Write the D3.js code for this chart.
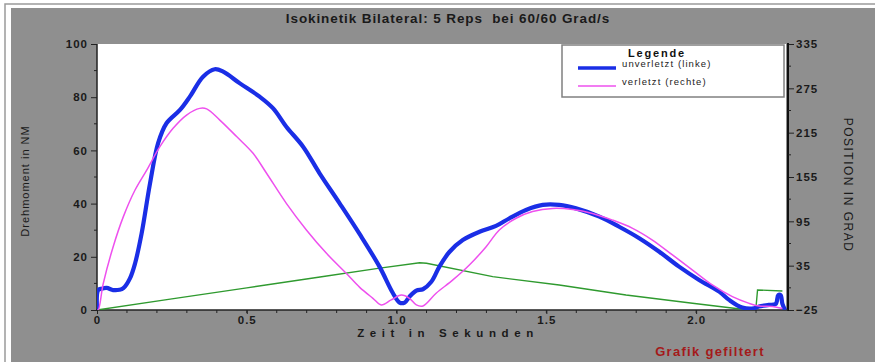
<!DOCTYPE html>
<html>
<head>
<meta charset="utf-8">
<script src="https://cdn.jsdelivr.net/npm/d3@7/dist/d3.min.js"></script>
<style>
  html, body { margin: 0; padding: 0; background: #ffffff; }
  svg { display: block; font-family: "Liberation Sans", Arial, sans-serif; }
  text { white-space: pre; }
</style>
</head>
<body>
<svg id="chart" width="875" height="362"></svg>
<script>
// Torque curves (Nm) over time (s) and joint position (degrees)
const timeUnverletzt = [0, 0.004, 0.015, 0.032, 0.054, 0.075, 0.088, 0.11, 0.127, 0.149, 0.177, 0.204, 0.232, 0.277, 0.31, 0.354, 0.393, 0.421, 0.477, 0.543, 0.588, 0.632, 0.688, 0.743, 0.81, 0.877, 0.943, 0.988, 1.01, 1.027, 1.043, 1.066, 1.088, 1.116, 1.143, 1.177, 1.221, 1.277, 1.332, 1.377, 1.432, 1.488, 1.543, 1.599, 1.677, 1.743, 1.81, 1.877, 1.943, 2.01, 2.077, 2.11, 2.154, 2.193, 2.21, 2.243, 2.266, 2.274, 2.282, 2.288, 2.297];
const torqueUnverletzt = [0, 7.5, 8.0, 8.3, 7.5, 7.6, 8.2, 11.9, 17.5, 28.8, 47.6, 62.7, 70.2, 75.2, 80.2, 87.7, 90.5, 89.6, 85.2, 80.2, 75.8, 68.9, 61.4, 51.4, 40.1, 28.5, 16.3, 6.3, 2.8, 2.8, 5.0, 7.3, 7.8, 10.6, 16.3, 21.9, 26.3, 29.4, 31.6, 34.5, 37.6, 39.5, 39.5, 38.2, 35.1, 31.3, 27.0, 21.9, 16.3, 11.3, 6.9, 3.8, 0.9, 0.6, 1.3, 1.9, 2.3, 5.6, 5.6, 2.3, 0];

const timeVerletzt = [0, 0.004, 0.021, 0.054, 0.088, 0.127, 0.166, 0.21, 0.254, 0.299, 0.343, 0.366, 0.41, 0.466, 0.521, 0.566, 0.632, 0.699, 0.766, 0.832, 0.877, 0.921, 0.949, 0.982, 1.016, 1.043, 1.066, 1.088, 1.132, 1.188, 1.243, 1.299, 1.343, 1.399, 1.454, 1.521, 1.588, 1.654, 1.721, 1.788, 1.854, 1.921, 1.988, 2.054, 2.121, 2.177, 2.21, 2.254, 2.288];
const torqueVerletzt = [0, 0, 10, 23.8, 35.1, 45.1, 52.6, 61.4, 68.3, 73.3, 75.8, 75.6, 71.4, 65.2, 58.9, 51.4, 40.1, 30.1, 21.3, 13.8, 8.5, 4.4, 1.9, 3.8, 5.6, 4.4, 1.9, 1.5, 6.3, 11.3, 16.9, 23.8, 30.1, 34.5, 37.0, 38.2, 37.8, 36.3, 33.8, 30.7, 26.3, 20.7, 15.0, 9.4, 5.0, 2.5, 1.5, 1.3, 0.6];

const timePosition = [0, 0.25, 0.5, 0.75, 0.938, 1.077, 1.1, 1.321, 1.543, 1.766, 1.988, 2.154, 2.199, 2.205, 2.288];
const position = [-25, -10, 5, 20, 31.4, 39.0, 38.2, 20.1, 8.8, -4.7, -15.9, -24, -25, 2.1, 0.7];

const leftTicks = [0, 20, 40, 60, 80, 100];
const rightTicks = [-25, 35, 95, 155, 215, 275, 335];
const timeTicks = [0, 0.5, 1.0, 1.5, 2.0];
const timeTickLabels = ["0", "0.5", "1.0", "1.5", "2.0"];

const legendLabels = ["unverletzt (linke)", "verletzt (rechte)"];
const titleText = "Isokinetik Bilateral: 5 Reps  bei 60/60 Grad/s";

const svg = d3.select("#chart");

// panel frame
svg.append("rect").attr("x", 5).attr("y", 4).attr("width", 880).attr("height", 370)
  .attr("fill", "#ffffff").attr("stroke", "#9a9a9a").attr("stroke-width", 1.5);
svg.append("rect").attr("x", 11).attr("y", 8).attr("width", 870).attr("height", 360)
  .attr("fill", "#8f8f8f");

const plot = { left: 97, right: 786, top: 44, bottom: 310 };

const x = d3.scaleLinear().domain([0, 2.3]).range([plot.left, plot.right]);
const y = d3.scaleLinear().domain([0, 100]).range([plot.bottom, plot.top]);
const y2 = d3.scaleLinear().domain([-25, 335]).range([plot.bottom, plot.top]);

svg.append("rect").attr("x", plot.left).attr("y", plot.top)
  .attr("width", plot.right - plot.left).attr("height", plot.bottom - plot.top)
  .attr("fill", "#ffffff");

// title
svg.append("text").attr("x", 448).attr("y", 23).attr("text-anchor", "middle")
  .attr("font-size", 13.5).attr("font-weight", "bold").attr("letter-spacing", 0.9).attr("fill", "#1a1a1a")
  .text(titleText);

// left axis
const leftAxis = d3.axisLeft(y).tickValues(leftTicks).tickSize(6).tickPadding(3).tickFormat(d3.format("d"));
const gL = svg.append("g").attr("transform", `translate(${plot.left},0)`).call(leftAxis);
gL.selectAll("path.domain").remove();
gL.append("line").attr("x1", 0).attr("x2", 0).attr("y1", plot.top).attr("y2", plot.bottom + 1)
  .attr("stroke", "#222").attr("stroke-width", 1.5);
gL.selectAll(".minor").data(d3.range(10, 100, 20)).enter().append("line")
  .attr("x1", -3).attr("x2", 0).attr("y1", d => y(d)).attr("y2", d => y(d)).attr("stroke", "#222");

// right axis
const rightAxis = d3.axisRight(y2).tickValues(rightTicks).tickSize(6).tickPadding(2).tickFormat(d3.format("d"));
const gR = svg.append("g").attr("transform", `translate(788,0)`).call(rightAxis);
gR.selectAll("path.domain").remove();
gR.append("line").attr("x1", 0).attr("x2", 0).attr("y1", plot.top - 1).attr("y2", plot.bottom + 1)
  .attr("stroke", "#111").attr("stroke-width", 2);
gR.selectAll(".minor").data(d3.range(5, 335, 60)).enter().append("line")
  .attr("x1", 0).attr("x2", 3).attr("y1", d => y2(d)).attr("y2", d => y2(d)).attr("stroke", "#222");

// bottom axis
const bottomAxis = d3.axisBottom(x).tickValues(timeTicks).tickSize(4).tickPadding(2)
  .tickFormat((d, i) => timeTickLabels[i]);
const gB = svg.append("g").attr("transform", `translate(0,${plot.bottom})`).call(bottomAxis);
gB.selectAll("path.domain").remove();
gB.append("line").attr("x1", plot.left - 1).attr("x2", 788).attr("y1", 0).attr("y2", 0)
  .attr("stroke", "#222").attr("stroke-width", 1.5);
gB.selectAll(".minor").data(d3.range(1, 23).map(i => i / 10)).enter().append("line")
  .attr("x1", d => x(d)).attr("x2", d => x(d)).attr("y1", 0).attr("y2", 3).attr("stroke", "#222");

[gL, gR, gB].forEach(g => {
  g.selectAll(".tick line").attr("stroke", "#222");
  g.selectAll(".tick text").attr("font-size", 11.5).attr("font-weight", "bold").attr("letter-spacing", 1)
    .attr("fill", "#1a1a1a").attr("font-family", "\"Liberation Sans\", Arial, sans-serif");
});

// axis titles
svg.append("text").attr("transform", "translate(29,181) rotate(-90)").attr("text-anchor", "middle")
  .attr("font-size", 11).attr("letter-spacing", 1).attr("fill", "#1a1a1a")
  .text("Drehmoment in NM");
svg.append("text").attr("transform", "translate(844,185) rotate(90)").attr("text-anchor", "middle")
  .attr("font-size", 12).attr("letter-spacing", 1.5).attr("fill", "#1a1a1a")
  .text("POSITION IN GRAD");
svg.append("text").attr("x", 448).attr("y", 337).attr("text-anchor", "middle")
  .attr("font-size", 11.5).attr("font-weight", "bold").attr("letter-spacing", 5.6).attr("fill", "#1a1a1a")
  .text("Zeit in Sekunden");
svg.append("text").attr("x", 710).attr("y", 356).attr("text-anchor", "middle")
  .attr("font-size", 13).attr("font-weight", "bold").attr("letter-spacing", 1.3).attr("fill", "#a41a1a")
  .text("Grafik gefiltert");

// curves
svg.append("clipPath").attr("id", "plotclip").append("rect")
  .attr("x", plot.left).attr("y", plot.top - 5).attr("width", plot.right - plot.left + 2).attr("height", plot.bottom - plot.top + 5);
const curves = svg.append("g").attr("clip-path", "url(#plotclip)");

const posLine = d3.line().x(d => x(d[0])).y(d => y2(d[1]));
curves.append("path").datum(d3.zip(timePosition, position))
  .attr("d", posLine).attr("fill", "none").attr("stroke", "#2f9a2f").attr("stroke-width", 1.4);

const torqueLine = d3.line().x(d => x(d[0])).y(d => y(d[1])).curve(d3.curveCatmullRom.alpha(0.5));
curves.append("path").datum(d3.zip(timeUnverletzt, torqueUnverletzt))
  .attr("d", torqueLine).attr("fill", "none").attr("stroke", "#1a2ee6").attr("stroke-width", 4.2)
  .attr("stroke-linejoin", "round");
curves.append("path").datum(d3.zip(timeVerletzt, torqueVerletzt))
  .attr("d", torqueLine).attr("fill", "none").attr("stroke", "#ee50ee").attr("stroke-width", 1.5);

// legend
const lg = svg.append("g");
lg.append("rect").attr("x", 562).attr("y", 45).attr("width", 222).attr("height", 52)
  .attr("fill", "#ffffff").attr("stroke", "#808080").attr("stroke-width", 1.5);
lg.append("text").attr("x", 657).attr("y", 57).attr("text-anchor", "middle")
  .attr("font-size", 11).attr("font-weight", "bold").attr("letter-spacing", 1.8).attr("fill", "#111")
  .text("Legende");
const legendColors = ["#1a2ee6", "#ee50ee"];
const legendWidths = [3.5, 1.5];
legendLabels.forEach((lab, i) => {
  const ly = 68 + i * 18;
  lg.append("line").attr("x1", 578).attr("x2", 616).attr("y1", ly).attr("y2", ly)
    .attr("stroke", legendColors[i]).attr("stroke-width", legendWidths[i]);
  lg.append("text").attr("x", 622).attr("y", ly - 1).attr("font-size", 9.5).attr("letter-spacing", 1.1).attr("fill", "#222")
    .text(lab);
});
</script>
</body>
</html>
